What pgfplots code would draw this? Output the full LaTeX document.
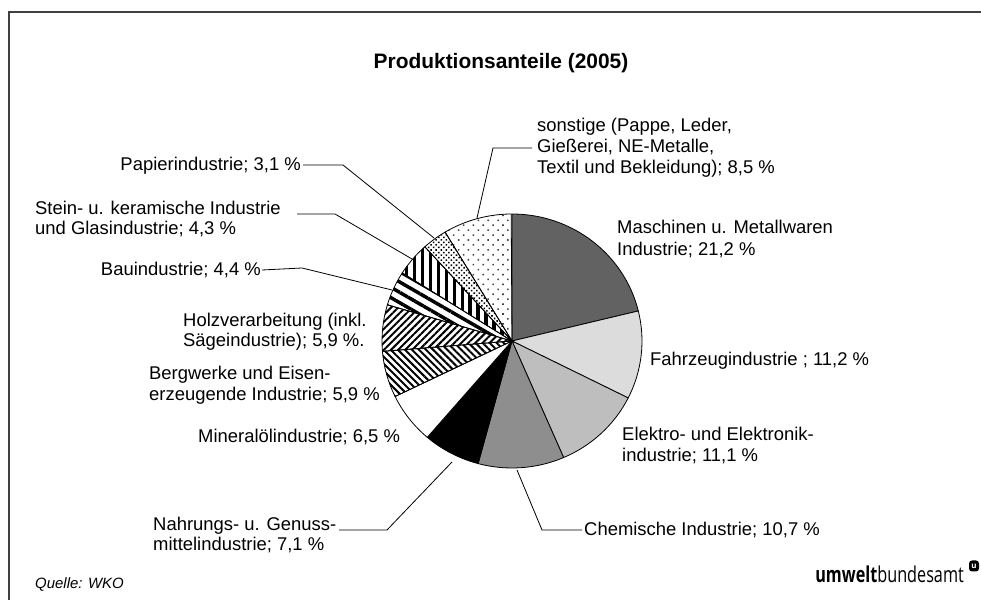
\documentclass[border=0pt]{standalone}
\usepackage{pgfplots}
\pgfplotsset{compat=1.18}
\usepackage{pgfplotstable}
\usetikzlibrary{patterns.meta}
\usepackage{fontspec}
\setmainfont{Liberation Sans}
\newfontfamily\logofont{Open Sans}

% shares in percent, clockwise from 12 o'clock
\pgfplotstableread{
idx value
0 21.2
1 11.2
2 11.1
3 10.7
4 7.1
5 6.5
6 5.9
7 5.9
8 4.4
9 4.3
10 3.1
11 8.5
}\piedata

\definecolor{cMasch}{HTML}{626262}
\definecolor{cFahr}{HTML}{DCDCDC}
\definecolor{cElek}{HTML}{BEBEBE}
\definecolor{cChem}{HTML}{8E8E8E}
\definecolor{cFrame}{HTML}{404040}

\tikzset{
  slice0/.style={fill=cMasch},
  slice1/.style={fill=cFahr},
  slice2/.style={fill=cElek},
  slice3/.style={fill=cChem},
  slice4/.style={fill=black},
  slice5/.style={fill=white},
  slice6/.style={pattern={Lines[angle=-45,distance=5pt,line width=2pt]}},
  slice7/.style={pattern={Lines[angle=45,distance=5pt,line width=2pt]}},
  slice8/.style={pattern={Lines[angle=-30,distance=9pt,line width=3.5pt]}},
  slice9/.style={pattern={Lines[angle=90,distance=8pt,line width=3.5pt]}},
  slice10/.style={pattern={Dots[angle=45,distance=3.6pt,radius=1.1pt]}},
  slice11/.style={pattern={Dots[angle=45,distance=7pt,radius=1.1pt]},pattern color=black!75},
  leader/.style={draw=black,line width=0.8bp},
}

\newcommand\lf{\fontsize{18.5}{21}\selectfont}
\newcommand\lab[3]{\node[anchor=base west,font=\lf,inner sep=0pt] at (axis cs:#1,#2) {#3};}
\newcommand\labr[3]{\node[anchor=base east,font=\lf,inner sep=0pt] at (axis cs:#1,#2) {#3};}

\begin{document}
\begin{tikzpicture}
\begin{axis}[
  width=981bp, height=600bp, scale only axis,
  xmin=0, xmax=981, ymin=0, ymax=600,
  y dir=reverse,
  hide axis, clip=false,
]
% frame (right and bottom edges lie outside the picture)
\draw[cFrame,line width=1.5bp] (axis cs:9,600) -- (axis cs:9,12) -- (axis cs:981,12);

% pie
\def\curang{90}
\pgfplotsforeachungrouped \i in {0,...,11} {
  \pgfplotstablegetelem{\i}{value}\of\piedata
  \pgfmathsetmacro\endang{\curang-3.6*\pgfplotsretval}
  \edef\temp{\noexpand\path[slice\i,draw=black,line width=0.8bp]
    (axis cs:512,341) -- ++(\curang:130bp and 127bp)
    arc[start angle=\curang, end angle=\endang, x radius=130bp, y radius=127bp] -- cycle;}
  \temp
  \let\curang\endang
}

% title
\node[anchor=base,font=\fontsize{21}{25}\selectfont\bfseries,inner sep=0pt] at (axis cs:501,69) {Produktionsanteile (2005)};

% leader lines
\draw[leader] (axis cs:477,218) -- (axis cs:493,148) -- (axis cs:532,148);
\draw[leader] (axis cs:303,165) -- (axis cs:343,165) -- (axis cs:434,238);
\draw[leader] (axis cs:297,214) -- (axis cs:335,214) -- (axis cs:412,259);
\draw[leader] (axis cs:262,270) -- (axis cs:302,268) -- (axis cs:392,290);
\draw[leader] (axis cs:339,530) -- (axis cs:387,530) -- (axis cs:452,462);
\draw[leader] (axis cs:582,530) -- (axis cs:542,530) -- (axis cs:517,470);

% labels
\lab{537}{132}{sonstige (Pappe, Leder,}
\lab{537}{153}{Gießerei, NE-Metalle,}
\lab{537}{174}{Textil und Bekleidung); 8,5 \%}
\lab{617}{234}{Maschinen u. Metallwaren}
\lab{617}{256}{Industrie; 21,2 \%}
\lab{650}{366}{Fahrzeugindustrie ; 11,2 \%}
\lab{622}{441}{Elektro- und Elektronik-}
\lab{622}{462}{industrie; 11,1 \%}
\lab{584}{536}{Chemische Industrie; 10,7 \%}
\lab{153}{531}{Nahrungs- u. Genuss-}
\lab{153}{551}{mittelindustrie; 7,1 \%}
\lab{198}{443}{Mineralölindustrie; 6,5 \%}
\lab{149}{380}{Bergwerke und Eisen-}
\lab{149}{401}{erzeugende Industrie; 5,9 \%}
\lab{183}{327}{Holzverarbeitung (inkl.}
\lab{183}{347}{Sägeindustrie); 5,9 \%.}
\labr{261}{276}{Bauindustrie; 4,4 \%}
\lab{35}{215}{Stein- u. keramische Industrie}
\lab{35}{235}{und Glasindustrie; 4,3 \%}
\labr{301}{171}{Papierindustrie; 3,1 \%}

% footer
\node[anchor=base west,font=\fontsize{15}{18}\selectfont\itshape,inner sep=0pt] at (axis cs:35,589) {Quelle: WKO};
\node[anchor=base east,inner sep=0pt] at (axis cs:964,583)
  {\scalebox{0.74}[1]{\logofont\fontsize{22}{24}\selectfont\textbf{umwelt}bundesamt}};
\node[rounded corners=3bp,fill=black,inner sep=0pt,minimum width=10bp,minimum height=11bp,text=white,font=\logofont\fontsize{8}{8}\selectfont\bfseries] at (axis cs:974,566) {u};
\end{axis}
\pgfresetboundingbox
\path[use as bounding box] (current axis.south west) rectangle (current axis.north east);
\end{tikzpicture}
\end{document}
